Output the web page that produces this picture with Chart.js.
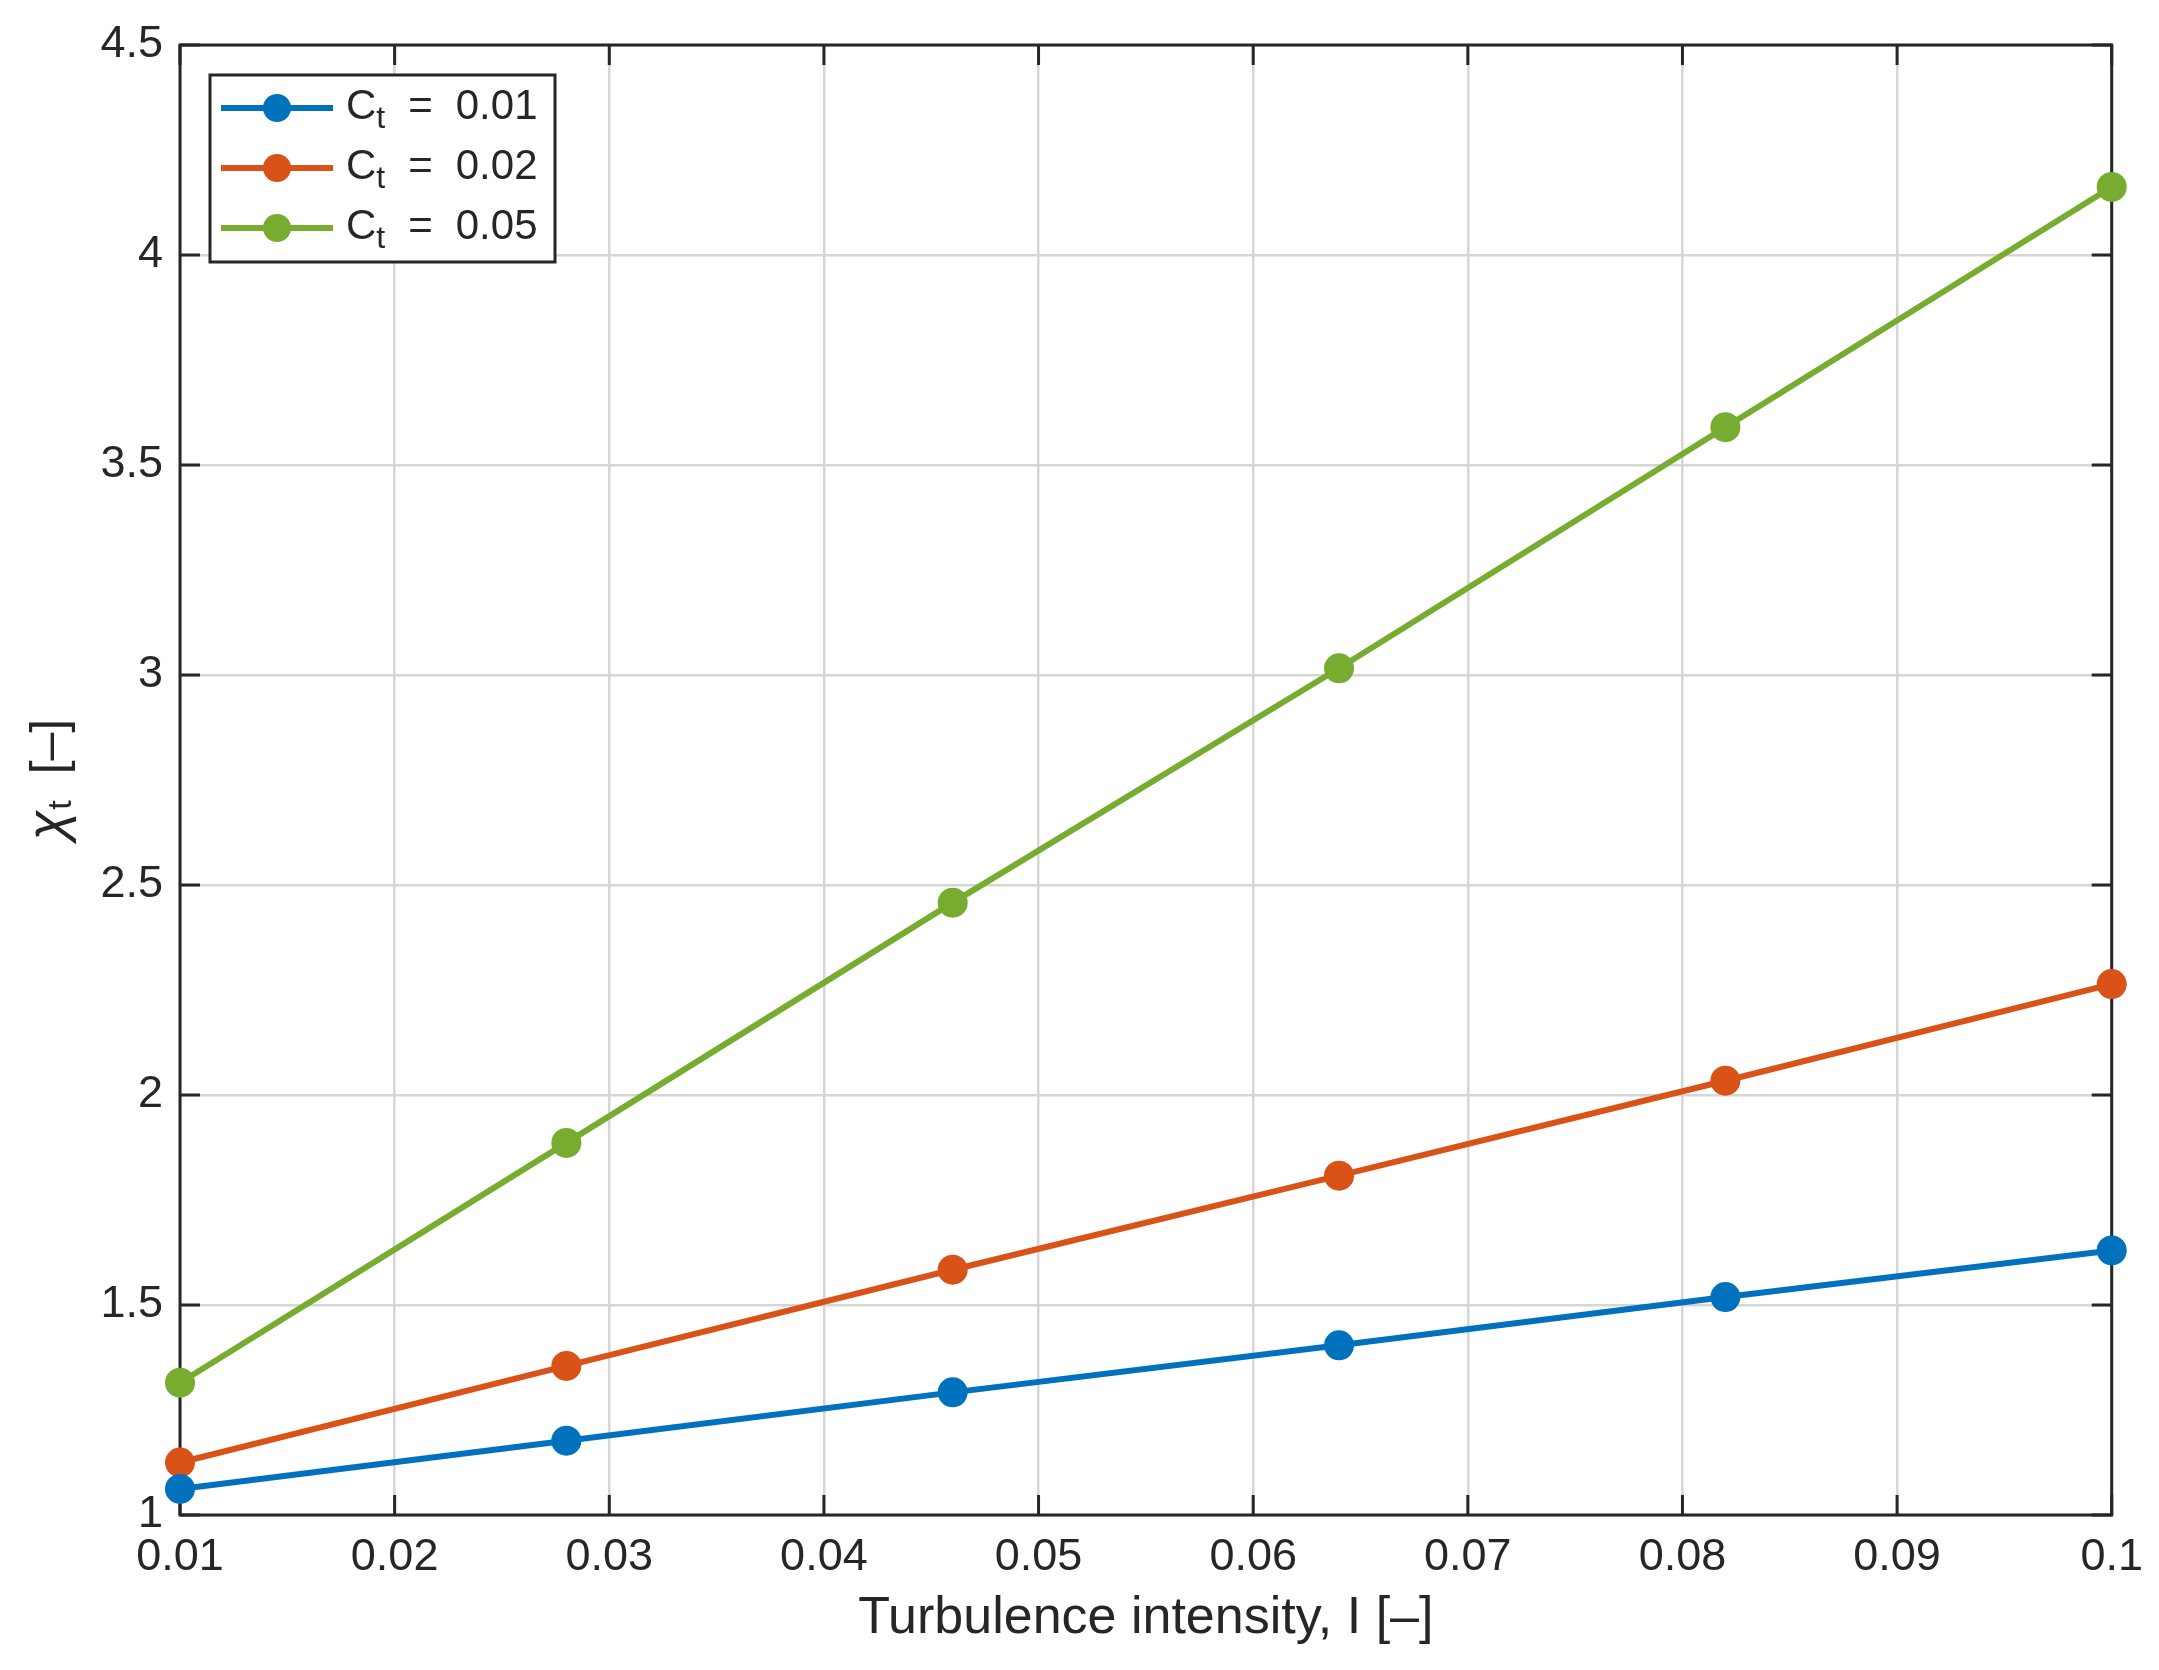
<!DOCTYPE html>
<html>
<head>
<meta charset="utf-8">
<script src="https://cdn.jsdelivr.net/npm/chart.js@4.4.1/dist/chart.umd.min.js"></script>
<style>
  html, body { margin: 0; padding: 0; background: #fff; }
  #wrap { width: 2159px; height: 1670px; }
</style>
</head>
<body>
<div id="wrap"><canvas id="xtChart" width="2159" height="1670"></canvas></div>
<script>
// turbulence intensity I (x) and chi_t values per C_t series
const turbIntensity = [0.01, 0.028, 0.046, 0.064, 0.082, 0.1];
const ctValues = ["0.01", "0.02", "0.05"];
const xtCt001 = [1.062, 1.177, 1.292, 1.404, 1.519, 1.630];
const xtCt002 = [1.125, 1.355, 1.584, 1.808, 2.034, 2.264];
const xtCt005 = [1.315, 1.886, 2.458, 3.016, 3.590, 4.162];

const xTickValues = [0.01, 0.02, 0.03, 0.04, 0.05, 0.06, 0.07, 0.08, 0.09, 0.1];
const xTickLabels = ["0.01", "0.02", "0.03", "0.04", "0.05", "0.06", "0.07", "0.08", "0.09", "0.1"];
const yTickValues = [1, 1.5, 2, 2.5, 3, 3.5, 4, 4.5];
const yTickLabels = ["1", "1.5", "2", "2.5", "3", "3.5", "4", "4.5"];

const seriesColors = ["#0072BD", "#D95319", "#77AC30"];

const FONT = "'Liberation Sans', Arial, Helvetica, sans-serif";
const AXIS_COLOR = "#262626";
const GRID_COLOR = "#d6d6d6";

const seriesList = [xtCt001, xtCt002, xtCt005];

const datasets = seriesList.map((vals, i) => ({
    label: `Ct = ${ctValues[i]}`,
    data: turbIntensity.map((x, j) => ({ x: x, y: vals[j] })),
    borderColor: seriesColors[i],
    backgroundColor: seriesColors[i],
    pointBackgroundColor: seriesColors[i],
    pointBorderWidth: 0,
    pointRadius: 15,
    pointHoverRadius: 15,
    borderWidth: 6,
    tension: 0,
    fill: false,
    clip: false,
}));

// box around the axes + inward tick marks, like matlab
const framePlugin = {
    id: "frame",
    beforeDatasetsDraw(chart) {
        const ctx = chart.ctx;
        const a = chart.chartArea;
        const xs = chart.scales.x;
        const ys = chart.scales.y;
        const tl = 20;
        ctx.save();
        ctx.strokeStyle = AXIS_COLOR;
        ctx.lineWidth = 3;
        ctx.beginPath();
        xTickValues.forEach((v) => {
            const px = xs.getPixelForValue(v);
            ctx.moveTo(px, a.bottom);
            ctx.lineTo(px, a.bottom - tl);
            ctx.moveTo(px, a.top);
            ctx.lineTo(px, a.top + tl);
        });
        yTickValues.forEach((v) => {
            const py = ys.getPixelForValue(v);
            ctx.moveTo(a.left, py);
            ctx.lineTo(a.left + tl, py);
            ctx.moveTo(a.right, py);
            ctx.lineTo(a.right - tl, py);
        });
        ctx.stroke();
        ctx.strokeRect(a.left, a.top, a.right - a.left, a.bottom - a.top);
        ctx.restore();
    },
};

// legend drawn inside the axes with a black box
const legendBoxPlugin = {
    id: "legendBox",
    afterDatasetsDraw(chart) {
        const ctx = chart.ctx;
        const a = chart.chartArea;
        const bx = a.left + 30;
        const by = a.top + 30;
        const bw = 345;
        const bh = 187;
        ctx.save();
        ctx.fillStyle = "#fff";
        ctx.fillRect(bx, by, bw, bh);
        ctx.lineWidth = 3;
        ctx.strokeStyle = AXIS_COLOR;
        ctx.strokeRect(bx, by, bw, bh);
        chart.data.datasets.forEach((ds, i) => {
            const y = by + 33 + i * 60;
            ctx.strokeStyle = ds.borderColor;
            ctx.lineWidth = 6;
            ctx.beginPath();
            ctx.moveTo(bx + 11, y);
            ctx.lineTo(bx + 123, y);
            ctx.stroke();
            ctx.fillStyle = ds.borderColor;
            ctx.beginPath();
            ctx.arc(bx + 67, y, 14, 0, Math.PI * 2);
            ctx.fill();

            ctx.fillStyle = AXIS_COLOR;
            ctx.textBaseline = "alphabetic";
            ctx.textAlign = "left";
            let tx = bx + 136;
            const base = y + 11;
            ctx.font = `42px ${FONT}`;
            ctx.fillText("C", tx, base);
            tx += ctx.measureText("C").width;
            ctx.font = `32px ${FONT}`;
            ctx.fillText("t", tx, base + 9);
            tx += ctx.measureText("t").width + 23;
            ctx.font = `42px ${FONT}`;
            ctx.fillText("=", tx, base);
            tx += ctx.measureText("=").width + 23;
            ctx.fillText(ctValues[i], tx, base);
        });
        ctx.restore();
    },
};

// rotated y title: chi_t [–]
const yTitlePlugin = {
    id: "yTitle",
    afterDraw(chart) {
        const ctx = chart.ctx;
        const a = chart.chartArea;
        const cy = (a.top + a.bottom) / 2;
        ctx.save();
        ctx.translate(65, cy);
        ctx.rotate(-Math.PI / 2);
        ctx.fillStyle = AXIS_COLOR;
        ctx.textBaseline = "alphabetic";
        ctx.textAlign = "left";
        const chiFont = `italic 54px ${FONT}`;
        const subFont = `34px ${FONT}`;
        const brFont = `50px ${FONT}`;
        ctx.font = chiFont;
        const w1 = ctx.measureText("χ").width;
        ctx.font = subFont;
        const w2 = ctx.measureText("t").width;
        ctx.font = brFont;
        const w3 = ctx.measureText("[–]").width;
        const gap = 26;
        let tx = -(w1 + w2 + gap + w3) / 2;
        ctx.font = chiFont;
        ctx.fillText("χ", tx, 0);
        tx += w1 + 1;
        ctx.font = subFont;
        ctx.fillText("t", tx, 6);
        tx += w2 + gap;
        ctx.font = brFont;
        ctx.fillText("[–]", tx, 0);
        ctx.restore();
    },
};

const canvas = document.getElementById("xtChart");
new Chart(canvas.getContext("2d"), {
    type: "line",
    data: { datasets },
    plugins: [framePlugin, legendBoxPlugin, yTitlePlugin],
    options: {
        responsive: false,
        animation: false,
        devicePixelRatio: 1,
        layout: { padding: { top: 45, right: 46, left: 0, bottom: 0 } },
        plugins: {
            legend: { display: false },
            tooltip: { enabled: false },
        },
        scales: {
            x: {
                type: "linear",
                min: 0.01,
                max: 0.1,
                afterBuildTicks: (s) => {
                    s.ticks = xTickValues.map((v) => ({ value: v }));
                },
                afterFit: (s) => {
                    s.height = 155;
                },
                ticks: {
                    callback: (v, i) => xTickLabels[i],
                    font: { family: FONT, size: 45 },
                    color: AXIS_COLOR,
                    padding: 16,
                    maxRotation: 0,
                    autoSkip: false,
                },
                grid: { color: GRID_COLOR, lineWidth: 2.5, drawTicks: false },
                border: { display: false },
                title: {
                    display: true,
                    text: "Turbulence intensity, I [–]",
                    font: { family: FONT, size: 52 },
                    color: AXIS_COLOR,
                    padding: { top: 0, bottom: 20 },
                },
            },
            y: {
                type: "linear",
                min: 1,
                max: 4.5,
                afterBuildTicks: (s) => {
                    s.ticks = yTickValues.map((v) => ({ value: v }));
                },
                afterFit: (s) => {
                    s.width = 180;
                },
                ticks: {
                    callback: (v, i) => yTickLabels[i],
                    font: { family: FONT, size: 45 },
                    color: AXIS_COLOR,
                    padding: 17,
                    autoSkip: false,
                },
                grid: { color: GRID_COLOR, lineWidth: 2.5, drawTicks: false },
                border: { display: false },
            },
        },
    },
});
</script>
</body>
</html>
